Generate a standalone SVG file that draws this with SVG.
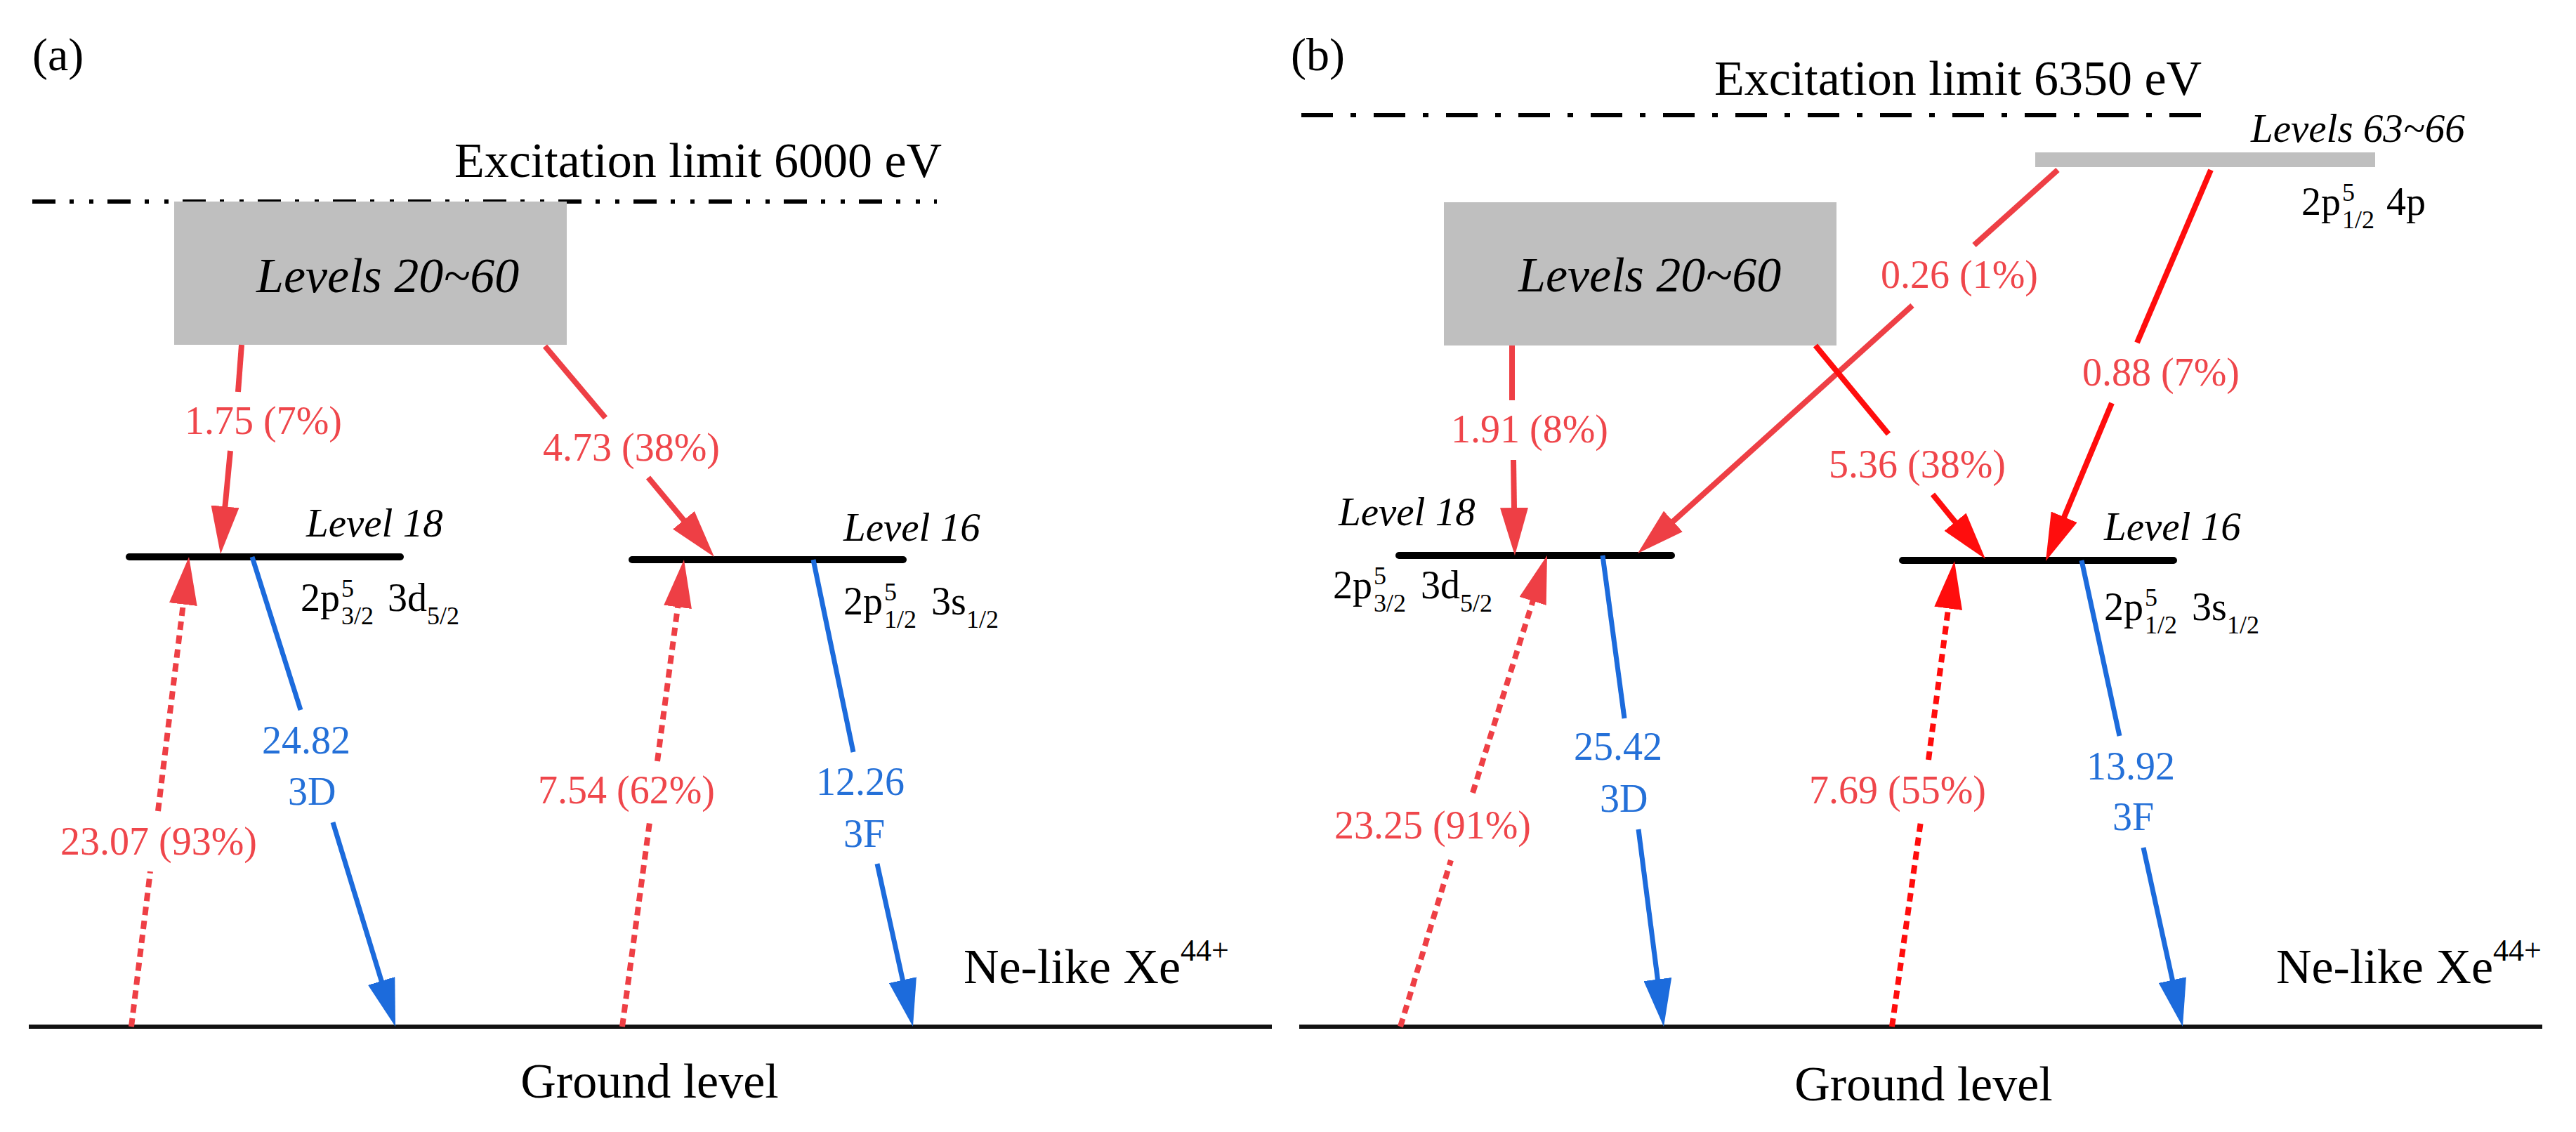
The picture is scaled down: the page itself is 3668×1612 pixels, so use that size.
<svg xmlns="http://www.w3.org/2000/svg" width="3668" height="1612" viewBox="0 0 3668 1612">
<style>
text{font-family:"Liberation Serif","Times New Roman",serif;fill:#000}
.big{font-size:70px}
.panel{font-size:66px}
.it{font-style:italic}
.lvl{font-size:57px;font-style:italic}
.cfg{font-size:56px}
.sup,.sub{font-size:36px}
.lab{font-size:56px}
.rl{fill:#ef464b}
.bl{fill:#2470d8}
.level{stroke:#000;stroke-width:10;stroke-linecap:round;fill:none}
.ground{stroke:#111;stroke-width:6;fill:none}
.limit{stroke:#000;stroke-width:6;fill:none}
.box{fill:#bfbfbf}
.r1{stroke:#ee3f45;stroke-width:8;fill:none}
.r2{stroke:#ff0d0d;stroke-width:8;fill:none}
.b{stroke:#1c6bdc;stroke-width:7;fill:none}
.dot{stroke-dasharray:12 8}
</style>
<defs>
<marker id="hr1" markerUnits="userSpaceOnUse" markerWidth="68" markerHeight="40" viewBox="0 0 68 40" refX="8" refY="20" orient="auto"><path d="M0,0 L68,20 L0,40 z" fill="#ee3f45"/></marker>
<marker id="hr2" markerUnits="userSpaceOnUse" markerWidth="68" markerHeight="40" viewBox="0 0 68 40" refX="8" refY="20" orient="auto"><path d="M0,0 L68,20 L0,40 z" fill="#ff0d0d"/></marker>
<marker id="hb" markerUnits="userSpaceOnUse" markerWidth="68" markerHeight="40" viewBox="0 0 68 40" refX="8" refY="20" orient="auto"><path d="M0,0 L68,20 L0,40 z" fill="#1c6bdc"/></marker>
</defs>

<!-- Panel (a) -->
<g id="panel-a-label"><text class="panel" x="46" y="100">(a)</text></g>
<g id="limit-a">
<line class="limit" x1="46" y1="287" x2="1334" y2="287" stroke-dasharray="33 20 6 22 6 20"/>
<text class="big" x="647" y="252">Excitation limit 6000 eV</text>
</g>
<g id="levels20-60-a">
<rect class="box" x="248" y="287" width="559" height="204"/>
<text class="big it" x="365" y="416">Levels 20~60</text>
</g>
<g id="level18-a">
<line class="level" x1="184" y1="793" x2="570" y2="793"/>
<text class="lvl" x="436" y="764">Level 18</text>
<text class="cfg" x="428" y="870">2p<tspan class="sup" x="486" y="850">5</tspan><tspan class="sub" x="486" y="889">3/2</tspan> <tspan x="552" y="870">3d</tspan><tspan class="sub" x="608" y="889">5/2</tspan></text>
</g>
<g id="level16-a">
<line class="level" x1="900" y1="797" x2="1286" y2="797"/>
<text class="lvl" x="1201" y="770">Level 16</text>
<text class="cfg" x="1201" y="875">2p<tspan class="sup" x="1259" y="855">5</tspan><tspan class="sub" x="1259" y="894">1/2</tspan> <tspan x="1326" y="875">3s</tspan><tspan class="sub" x="1376" y="894">1/2</tspan></text>
</g>
<g id="ground-a">
<line class="ground" x1="41" y1="1462" x2="1811" y2="1462"/>
<text class="big" x="1372" y="1400">Ne-like Xe<tspan font-size="44" dy="-32">44+</tspan></text>
<text class="big" x="925" y="1563" text-anchor="middle">Ground level</text>
</g>

<!-- Panel (b) -->
<g id="panel-b-label"><text class="panel" x="1838" y="100">(b)</text></g>
<g id="limit-b">
<line class="limit" x1="1853" y1="164" x2="3143" y2="164" stroke-dasharray="45 25 8 25"/>
<text class="big" x="2441" y="135">Excitation limit 6350 eV</text>
</g>
<g id="levels20-60-b">
<rect class="box" x="2056" y="288" width="559" height="204"/>
<text class="big it" x="2162" y="415">Levels 20~60</text>
</g>
<g id="levels63-66-b">
<rect class="box" x="2898" y="217" width="484" height="21"/>
<text class="lvl" x="3205" y="202">Levels 63~66</text>
<text class="cfg" x="3277" y="306">2p<tspan class="sup" x="3335" y="286">5</tspan><tspan class="sub" x="3335" y="325">1/2</tspan> <tspan x="3398" y="306">4p</tspan></text>
</g>
<g id="level18-b">
<line class="level" x1="1992" y1="791" x2="2380" y2="791"/>
<text class="lvl" x="1906" y="748">Level 18</text>
<text class="cfg" x="1898" y="852">2p<tspan class="sup" x="1956" y="832">5</tspan><tspan class="sub" x="1956" y="871">3/2</tspan> <tspan x="2023" y="852">3d</tspan><tspan class="sub" x="2079" y="871">5/2</tspan></text>
</g>
<g id="level16-b">
<line class="level" x1="2709" y1="798" x2="3095" y2="798"/>
<text class="lvl" x="2996" y="769">Level 16</text>
<text class="cfg" x="2996" y="883">2p<tspan class="sup" x="3054" y="863">5</tspan><tspan class="sub" x="3054" y="902">1/2</tspan> <tspan x="3121" y="883">3s</tspan><tspan class="sub" x="3171" y="902">1/2</tspan></text>
</g>
<g id="ground-b">
<line class="ground" x1="1850" y1="1462" x2="3620" y2="1462"/>
<text class="big" x="3241" y="1400">Ne-like Xe<tspan font-size="44" dy="-32">44+</tspan></text>
<text class="big" x="2739" y="1567" text-anchor="middle">Ground level</text>
</g>

<g id="connectors">
<!-- panel a -->
<line class="r1" x1="344" y1="491" x2="339" y2="558"/>
<line class="r1" x1="328" y1="642" x2="319.7" y2="729.3" marker-end="url(#hr1)"/>
<text class="lab rl" x="263" y="618">1.75 (7%)</text>

<line class="r1" x1="776" y1="493" x2="862" y2="595"/>
<line class="r1" x1="923" y1="680" x2="978.6" y2="746.9" marker-end="url(#hr1)"/>
<text class="lab rl" x="773" y="656">4.73 (38%)</text>

<line class="r1 dot" x1="187" y1="1462" x2="214" y2="1241"/>
<line class="r1 dot" x1="225" y1="1155" x2="261.8" y2="852.6" marker-end="url(#hr1)"/>
<text class="lab rl" x="86" y="1217">23.07 (93%)</text>

<line class="b" x1="359" y1="793" x2="428" y2="1011"/>
<line class="b" x1="474" y1="1171" x2="545.5" y2="1404.6" marker-end="url(#hb)"/>
<text class="lab bl" x="373" y="1073">24.82</text>
<text class="lab bl" x="410" y="1146">3D</text>

<line class="r1 dot" x1="886" y1="1462" x2="925" y2="1171"/>
<line class="r1 dot" x1="936" y1="1084" x2="966.1" y2="856.5" marker-end="url(#hr1)"/>
<text class="lab rl" x="766" y="1144">7.54 (62%)</text>

<line class="b" x1="1158" y1="797" x2="1215" y2="1071"/>
<line class="b" x1="1249" y1="1230" x2="1287.1" y2="1403.4" marker-end="url(#hb)"/>
<text class="lab bl" x="1162" y="1132">12.26</text>
<text class="lab bl" x="1201" y="1206">3F</text>

<!-- panel b -->
<line class="r1" x1="2153" y1="492" x2="2153" y2="570"/>
<line class="r1" x1="2155" y1="655" x2="2156.1" y2="731" marker-end="url(#hr1)"/>
<text class="lab rl" x="2066" y="630">1.91 (8%)</text>

<line class="r1" x1="2930" y1="242" x2="2811" y2="349"/>
<line class="r1" x1="2723" y1="435" x2="2376.5" y2="747.8" marker-end="url(#hr1)"/>
<text class="lab rl" x="2678" y="410">0.26 (1%)</text>

<line class="r2" x1="2585" y1="492" x2="2689" y2="618"/>
<line class="r2" x1="2752" y1="704" x2="2789.1" y2="749.5" marker-end="url(#hr2)"/>
<text class="lab rl" x="2604" y="680">5.36 (38%)</text>

<line class="r2" x1="3148" y1="242" x2="3043" y2="488"/>
<line class="r2" x1="3007" y1="574" x2="2936.1" y2="743.6" marker-end="url(#hr2)"/>
<text class="lab rl" x="2965" y="549">0.88 (7%)</text>

<line class="r1 dot" x1="1994" y1="1462" x2="2066" y2="1225"/>
<line class="r1 dot" x1="2097" y1="1129" x2="2185" y2="848.3" marker-end="url(#hr1)"/>
<text class="lab rl" x="1900" y="1194">23.25 (91%)</text>

<line class="b" x1="2282" y1="791" x2="2313" y2="1023"/>
<line class="b" x1="2333" y1="1181" x2="2361.4" y2="1402.5" marker-end="url(#hb)"/>
<text class="lab bl" x="2241" y="1082">25.42</text>
<text class="lab bl" x="2278" y="1156">3D</text>

<line class="r2 dot" x1="2694" y1="1462" x2="2735" y2="1170"/>
<line class="r2 dot" x1="2746" y1="1082" x2="2775.2" y2="858.5" marker-end="url(#hr2)"/>
<text class="lab rl" x="2576" y="1144">7.69 (55%)</text>

<line class="b" x1="2964" y1="798" x2="3018" y2="1048"/>
<line class="b" x1="3052" y1="1207" x2="3095.1" y2="1403.4" marker-end="url(#hb)"/>
<text class="lab bl" x="2971" y="1110">13.92</text>
<text class="lab bl" x="3008" y="1182">3F</text>
</g>
</svg>
